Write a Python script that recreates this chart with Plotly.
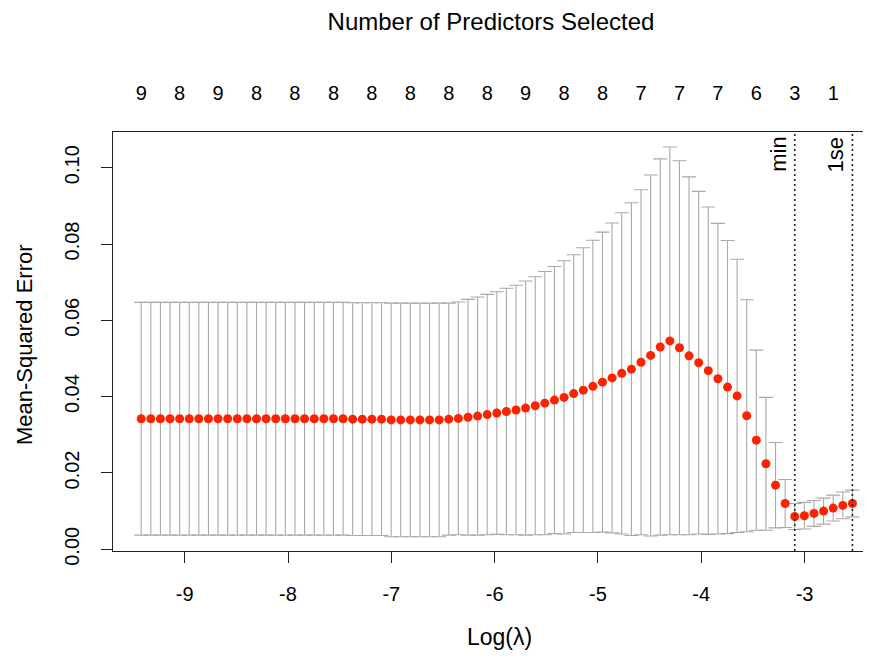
import plotly.graph_objects as go

# log(lambda) values of the fitted path (75 lambdas)
log_lambda = [
    -9.421, -9.328, -9.235, -9.142, -9.049, -8.956, -8.863, -8.770, -8.677, -8.584,
    -8.491, -8.398, -8.305, -8.212, -8.119, -8.026, -7.933, -7.840, -7.746, -7.653,
    -7.560, -7.467, -7.374, -7.281, -7.188, -7.095, -7.002, -6.909, -6.816, -6.723,
    -6.630, -6.537, -6.444, -6.351, -6.258, -6.165, -6.072, -5.979, -5.886, -5.793,
    -5.700, -5.607, -5.514, -5.421, -5.328, -5.235, -5.142, -5.049, -4.956, -4.863,
    -4.770, -4.676, -4.583, -4.490, -4.397, -4.304, -4.211, -4.118, -4.025, -3.932,
    -3.839, -3.746, -3.653, -3.560, -3.467, -3.374, -3.281, -3.188, -3.095, -3.002,
    -2.909, -2.816, -2.723, -2.630, -2.537,
]

# cross-validated mean squared error
cv_mse = [
    0.0342, 0.0342, 0.0342, 0.0342, 0.0342, 0.0342, 0.0342, 0.0342, 0.0342, 0.0342,
    0.0342, 0.0342, 0.0342, 0.0342, 0.0342, 0.0342, 0.0342, 0.0342, 0.0342, 0.0342,
    0.0342, 0.0342, 0.0341, 0.0341, 0.0341, 0.0341, 0.0339, 0.0339, 0.0339, 0.0339,
    0.0339, 0.0339, 0.0341, 0.0343, 0.0346, 0.0349, 0.0353, 0.0357, 0.0361, 0.0365,
    0.0370, 0.0376, 0.0383, 0.0391, 0.0398, 0.0408, 0.0417, 0.0427, 0.0438, 0.0449,
    0.0461, 0.0472, 0.0490, 0.0508, 0.0530, 0.0546, 0.0528, 0.0507, 0.0489, 0.0468,
    0.0447, 0.0425, 0.0402, 0.0350, 0.0286, 0.0224, 0.0168, 0.0120, 0.0086, 0.0088,
    0.0094, 0.0100, 0.0108, 0.0115, 0.0120,
]

# standard error of the CV estimate (half-length of the error bars)
cv_se = [
    0.0305, 0.0305, 0.0305, 0.0305, 0.0305, 0.0305, 0.0305, 0.0305, 0.0305, 0.0305,
    0.0305, 0.0305, 0.0305, 0.0305, 0.0305, 0.0305, 0.0305, 0.0305, 0.0305, 0.0305,
    0.0305, 0.0305, 0.0305, 0.0305, 0.0305, 0.0305, 0.0306, 0.0306, 0.0306, 0.0306,
    0.0306, 0.0306, 0.0304, 0.0305, 0.0309, 0.0312, 0.0315, 0.0318, 0.0323, 0.0327,
    0.0333, 0.0338, 0.0345, 0.0350, 0.0358, 0.0364, 0.0373, 0.0383, 0.0393, 0.0406,
    0.0421, 0.0436, 0.0452, 0.0473, 0.0493, 0.0508, 0.0490, 0.0469, 0.0449, 0.0429,
    0.0407, 0.0384, 0.0358, 0.0304, 0.0236, 0.0174, 0.0112, 0.0063, 0.0034, 0.0035,
    0.0034, 0.0034, 0.0034, 0.0035, 0.0035,
]

# number of non-zero predictors shown along the top axis
nz_positions = [-9.421, -9.049, -8.677, -8.305, -7.933, -7.560, -7.188, -6.816, -6.444,
                -6.072, -5.700, -5.328, -4.956, -4.583, -4.211, -3.839, -3.467, -3.095, -2.723]
nz_labels = ["9", "8", "9", "8", "8", "8", "8", "8", "8", "8",
             "9", "8", "8", "7", "7", "7", "6", "3", "1"]

x_ticks = [-9, -8, -7, -6, -5, -4, -3]
x_tick_labels = ["-9", "-8", "-7", "-6", "-5", "-4", "-3"]
y_ticks = [0.00, 0.02, 0.04, 0.06, 0.08, 0.10]
y_tick_labels = ["0.00", "0.02", "0.04", "0.06", "0.08", "0.10"]

log_lambda_min = -3.095
log_lambda_1se = -2.537

FONT = "Liberation Sans, Arial, Helvetica, sans-serif"

# the page body adds an 8px margin, so the figure is drawn 8px smaller/offset
W, H = 863, 648
L, T, B = 105, 124, 105
PW, PH = W - L, H - T - B  # plot area size

fig = go.Figure()
fig.add_trace(go.Scatter(
    x=log_lambda, y=cv_mse, mode="markers",
    marker=dict(color="#ff2200", size=9, line=dict(width=0)),
    error_y=dict(type="data", array=cv_se, symmetric=True,
                 color="#a9a9a9", thickness=1.1, width=7),
    showlegend=False, hoverinfo="x+y",
))
# invisible trace to carry the top axis
fig.add_trace(go.Scatter(x=nz_positions, y=[None] * len(nz_positions), xaxis="x2",
                         mode="markers", showlegend=False, hoverinfo="skip"))

x_range = [-9.694, -2.357]
fig.update_layout(
    width=W, height=H,
    margin=dict(l=L, r=0, t=T, b=B),
    paper_bgcolor="white", plot_bgcolor="white",
    font=dict(family=FONT, color="black", size=20),
    xaxis=dict(range=x_range, tickvals=x_ticks, ticktext=x_tick_labels,
               showgrid=False, zeroline=False, showline=True, linecolor="#222",
               linewidth=1.3, mirror=True, ticks="outside", ticklen=11,
               tickcolor="#222", tickwidth=1.2, ticklabelstandoff=14,
               tickfont=dict(size=20)),
    xaxis2=dict(range=x_range, overlaying="x", side="top", tickvals=nz_positions,
                ticktext=nz_labels, showgrid=False, zeroline=False, showline=False,
                ticks="", ticklabelstandoff=27, tickfont=dict(size=20)),
    yaxis=dict(range=[-0.00045, 0.10935], tickvals=y_ticks, ticktext=y_tick_labels,
               showgrid=False, zeroline=False, showline=True, linecolor="#222",
               linewidth=1.3, ticks="outside", ticklen=11, tickcolor="#222",
               tickwidth=1.2, tickangle=-90, ticklabelstandoff=14,
               tickfont=dict(size=20)),
    title=dict(text="Number of Predictors Selected", x=(491 - 8) / W, xanchor="center",
               y=1, yanchor="top", yref="container", pad=dict(t=5),
               font=dict(size=24, family=FONT)),
    shapes=[
        dict(type="line", xref="x", yref="paper", x0=log_lambda_min, x1=log_lambda_min,
             y0=0, y1=1, line=dict(color="#222", width=1.6, dash="2px,3px")),
        dict(type="line", xref="x", yref="paper", x0=log_lambda_1se, x1=log_lambda_1se,
             y0=0, y1=1, line=dict(color="#222", width=1.6, dash="2px,3px")),
    ],
    annotations=[
        dict(text="min", x=log_lambda_min, xref="x", y=1, yref="paper",
             xanchor="right", yanchor="top", textangle=-90, showarrow=False,
             xshift=-2, yshift=-3, font=dict(size=22)),
        dict(text="1se", x=log_lambda_1se, xref="x", y=1, yref="paper",
             xanchor="right", yanchor="top", textangle=-90, showarrow=False,
             xshift=-2, yshift=-3, font=dict(size=22)),
        dict(text="Log(λ)", x=(499 - 113) / PW, xref="paper", y=-(637 - 551) / PH,
             yref="paper", xanchor="center", yanchor="middle", showarrow=False,
             font=dict(size=23)),
        dict(text="Mean-Squared Error", x=(24 - 113) / PW, xref="paper",
             y=(551 - 345) / PH, yref="paper", xanchor="center", yanchor="middle",
             textangle=-90, showarrow=False, font=dict(size=22)),
    ],
)

fig.write_html("out.html")
